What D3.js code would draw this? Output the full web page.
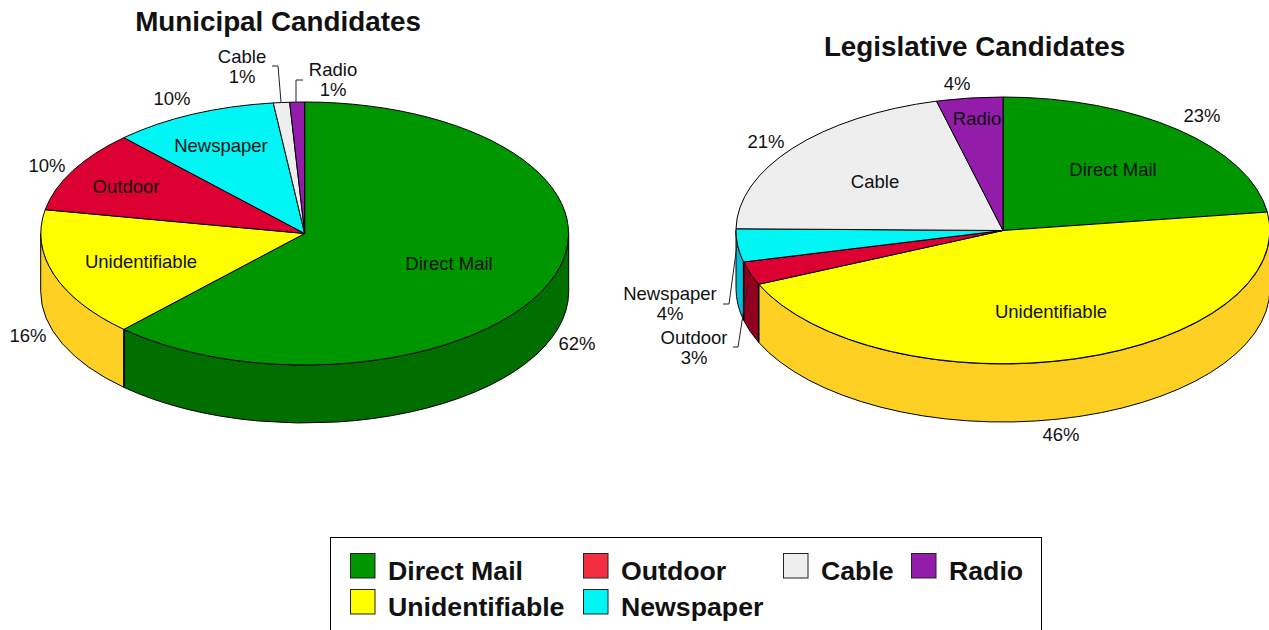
<!DOCTYPE html>
<html>
<head>
<meta charset="utf-8">
<script src="https://cdn.jsdelivr.net/npm/d3@7/dist/d3.min.js"></script>
<style>
html, body { margin: 0; padding: 0; background: #fff; overflow: hidden; }
text { font-family: "Liberation Sans", Arial, sans-serif; fill: #111; }
</style>
</head>
<body>
<svg id="diagram" width="1269" height="630"></svg>
<script>
var categories = ["Direct Mail", "Unidentifiable", "Outdoor", "Newspaper", "Cable", "Radio"];
var municipalValues = [62, 15.9, 10.1, 10.1, 1, 0.9];
var legislativeValues = [22.8, 45.6, 2.8, 4, 20.8, 4];

var topColors = ["#009600", "#ffff00", "#dc0032", "#00f5f5", "#eeeeee", "#931caa"];
var wallColors = ["#006f00", "#fdd023", "#92001f", "#00c0d8", "#bbbbbb", "#6a1480"];
var legendColors = ["#009600", "#ffff00", "#f52f42", "#00f5f5", "#eeeeee", "#931caa"];

// label placement, same order as categories: [name x, name y, percent x, percent y]
var municipalLabels = [
	[449, 264, 577, 344], [141, 262, 28, 336], [126, 187, 47, 166],
	[221, 146, 172, 99], [242, 57, 242, 77], [333, 70, 333, 90]
];
var legislativeLabels = [
	[1113, 170, 1202, 116], [1051, 312, 1061, 435], [694, 338, 694, 358],
	[670, 294, 670, 314], [875, 182, 766, 142], [977, 119, 957, 84]
];
var municipalLeaders = [
	[[281, 102], [278, 66], [272, 66]],
	[[296, 102], [296, 80], [303, 80]]
];
var legislativeLeaders = [
	[[737, 245], [729, 304], [723, 304]],
	[[748, 283], [738, 347], [733, 347]]
];

var legendColumns = [350, 350, 583, 583, 783, 911];
var legendRows = [553, 589, 553, 589, 553, 553];

var svg = d3.select("#diagram");
var pie = d3.pie().sort(null);
var arc = d3.arc().innerRadius(0).outerRadius(1);

function drawPie(opts) {
	var g = svg.append("g");
	var slices = pie(opts.values);
	var sx = d3.scaleLinear().domain([-1, 1]).range([opts.cx - opts.rx, opts.cx + opts.rx]);
	var sy = d3.scaleLinear().domain([-1, 1]).range([opts.cy - opts.ry, opts.cy + opts.ry]);

	// only the front half of the rim shows
	function wall(d) {
		var a0 = Math.max(d.startAngle, Math.PI / 2);
		var a1 = Math.min(d.endAngle, 3 * Math.PI / 2);
		if (a1 <= a0) return null;
		var x0 = sx(Math.sin(a0)), y0 = sy(-Math.cos(a0));
		var x1 = sx(Math.sin(a1)), y1 = sy(-Math.cos(a1));
		return "M" + x0 + "," + y0 +
			"A" + opts.rx + "," + opts.ry + " 0 0 1 " + x1 + "," + y1 +
			"L" + x1 + "," + (y1 + opts.depth) +
			"A" + opts.rx + "," + opts.ry + " 0 0 0 " + x0 + "," + (y0 + opts.depth) + "Z";
	}

	var walls = slices.filter(function (d) { return wall(d) !== null; });

	g.selectAll("path.wall")
		.data(walls)
		.enter().append("path")
		.attr("class", "wall")
		.attr("d", wall)
		.attr("fill", function (d) { return wallColors[d.index]; })
		.attr("stroke", "#000")
		.attr("stroke-width", 1);

	// heavier seams between the wall pieces
	g.selectAll("line.seam")
		.data(walls.slice(1))
		.enter().append("line")
		.attr("class", "seam")
		.attr("x1", function (d) { return sx(Math.sin(d.startAngle)); })
		.attr("x2", function (d) { return sx(Math.sin(d.startAngle)); })
		.attr("y1", function (d) { return sy(-Math.cos(d.startAngle)); })
		.attr("y2", function (d) { return sy(-Math.cos(d.startAngle)) + opts.depth; })
		.attr("stroke", "#000")
		.attr("stroke-width", 1.5);

	g.selectAll("path.top")
		.data(slices)
		.enter().append("path")
		.attr("class", "top")
		.attr("d", arc)
		.attr("transform", "translate(" + opts.cx + "," + opts.cy + ") scale(" + opts.rx + "," + opts.ry + ")")
		.attr("fill", function (d) { return topColors[d.index]; })
		.attr("stroke", "#000")
		.attr("stroke-width", 1)
		.attr("vector-effect", "non-scaling-stroke");

	g.selectAll("path.leader")
		.data(opts.leaders)
		.enter().append("path")
		.attr("class", "leader")
		.attr("d", d3.line())
		.attr("fill", "none")
		.attr("stroke", "#222")
		.attr("stroke-width", 1);

	g.selectAll("text.name")
		.data(categories)
		.enter().append("text")
		.attr("class", "name")
		.attr("x", function (d, i) { return opts.labels[i][0]; })
		.attr("y", function (d, i) { return opts.labels[i][1]; })
		.attr("dy", ".35em")
		.attr("text-anchor", "middle")
		.style("font-size", "18.5px")
		.text(function (d) { return d; });

	g.selectAll("text.pct")
		.data(opts.values)
		.enter().append("text")
		.attr("class", "pct")
		.attr("x", function (d, i) { return opts.labels[i][2]; })
		.attr("y", function (d, i) { return opts.labels[i][3]; })
		.attr("dy", ".35em")
		.attr("text-anchor", "middle")
		.style("font-size", "18.5px")
		.text(function (d) { return Math.round(d) + "%"; });

	g.append("text")
		.attr("x", opts.titleX)
		.attr("y", opts.titleY)
		.attr("text-anchor", "middle")
		.style("font-size", "27.8px")
		.style("font-weight", "bold")
		.text(opts.title);
}

drawPie({
	title: "Municipal Candidates", titleX: 278, titleY: 31,
	values: municipalValues, labels: municipalLabels, leaders: municipalLeaders,
	cx: 304.7, cy: 233.5, rx: 264, ry: 131.5, depth: 58
});
drawPie({
	title: "Legislative Candidates", titleX: 974.5, titleY: 56,
	values: legislativeValues, labels: legislativeLabels, leaders: legislativeLeaders,
	cx: 1003, cy: 230.5, rx: 267, ry: 133.5, depth: 58
});

// legend box runs off the bottom of the page
svg.append("rect")
	.attr("x", 330.5).attr("y", 537.5)
	.attr("width", 711).attr("height", 120)
	.attr("fill", "#fff").attr("stroke", "#000");

var legendItems = svg.selectAll("g.legend")
	.data(categories)
	.enter().append("g")
	.attr("class", "legend")
	.attr("transform", function (d, i) { return "translate(" + legendColumns[i] + "," + legendRows[i] + ")"; });

legendItems.append("rect")
	.attr("x", 0.5).attr("y", 0.5)
	.attr("width", 24.5).attr("height", 24.5)
	.attr("fill", function (d, i) { return legendColors[i]; })
	.attr("stroke", "#222");

legendItems.append("text")
	.attr("x", 38)
	.attr("y", 27)
	.style("font-size", "26.7px")
	.style("font-weight", "bold")
	.text(function (d) { return d; });
</script>
</body>
</html>
